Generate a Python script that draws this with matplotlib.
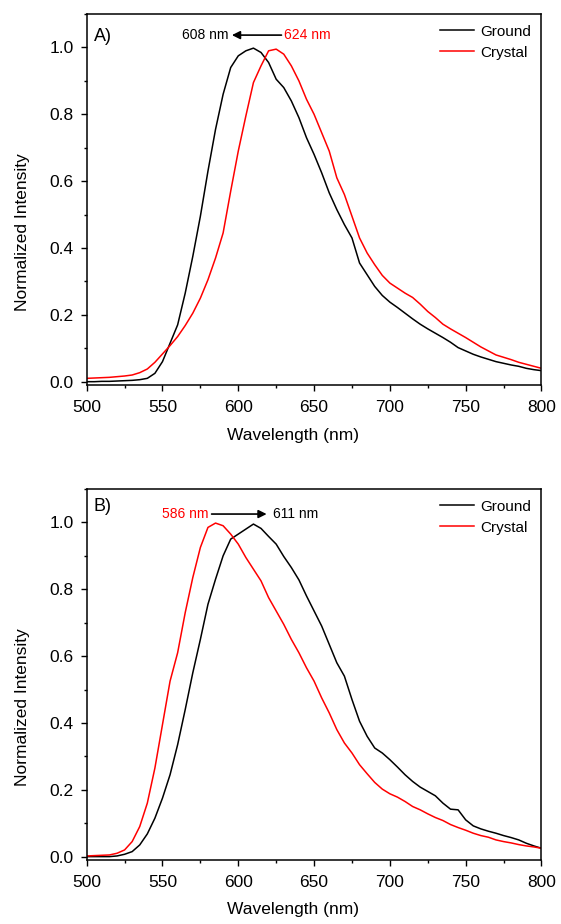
#!/usr/bin/env python3
import numpy as np
import matplotlib
matplotlib.use("Agg")
import matplotlib.pyplot as plt
from matplotlib.ticker import MultipleLocator, FormatStrFormatter

# wavelength grid (nm), 5 nm steps
wavelength = np.arange(500, 801, 5)

# panel A
ground_a = [0.000, 0.000, 0.001, 0.001, 0.002, 0.003, 0.004, 0.006, 0.010, 0.025,
            0.060, 0.115, 0.170, 0.265, 0.375, 0.495, 0.630, 0.755, 0.860, 0.940,
            0.975, 0.990, 0.998, 0.985, 0.955, 0.905, 0.880, 0.840, 0.790, 0.730,
            0.680, 0.625, 0.565, 0.515, 0.470, 0.430, 0.355, 0.320, 0.285, 0.258,
            0.238, 0.222, 0.205, 0.188, 0.172, 0.158, 0.145, 0.132, 0.118, 0.102,
            0.092, 0.082, 0.074, 0.067, 0.060, 0.055, 0.050, 0.046, 0.040, 0.036,
            0.033]
crystal_a = [0.010, 0.011, 0.012, 0.013, 0.015, 0.017, 0.020, 0.027, 0.038, 0.058,
             0.083, 0.108, 0.135, 0.168, 0.205, 0.250, 0.305, 0.370, 0.445, 0.570,
             0.690, 0.795, 0.895, 0.945, 0.990, 0.995, 0.980, 0.945, 0.900, 0.845,
             0.800, 0.745, 0.690, 0.610, 0.560, 0.495, 0.430, 0.385, 0.350, 0.318,
             0.295, 0.280, 0.265, 0.252, 0.232, 0.210, 0.192, 0.172, 0.158, 0.145,
             0.132, 0.118, 0.104, 0.092, 0.080, 0.073, 0.066, 0.058, 0.052, 0.046,
             0.040]

# panel B
ground_b = [0.000, 0.000, 0.000, 0.000, 0.002, 0.007, 0.015, 0.035, 0.068, 0.115,
            0.175, 0.245, 0.335, 0.440, 0.550, 0.650, 0.755, 0.830, 0.900, 0.950,
            0.965, 0.980, 0.995, 0.982, 0.958, 0.935, 0.898, 0.865, 0.828, 0.780,
            0.735, 0.690, 0.635, 0.580, 0.540, 0.470, 0.405, 0.360, 0.325, 0.310,
            0.290, 0.268, 0.245, 0.225, 0.208, 0.195, 0.182, 0.160, 0.142, 0.140,
            0.110, 0.092, 0.083, 0.076, 0.070, 0.063, 0.057, 0.050, 0.040, 0.032,
            0.025]
crystal_b = [0.002, 0.003, 0.004, 0.005, 0.010, 0.020, 0.045, 0.090, 0.160, 0.265,
             0.395, 0.525, 0.610, 0.730, 0.835, 0.925, 0.985, 0.998, 0.990, 0.965,
             0.935, 0.895, 0.860, 0.825, 0.775, 0.735, 0.695, 0.650, 0.610, 0.565,
             0.525, 0.475, 0.430, 0.380, 0.340, 0.310, 0.275, 0.248, 0.222, 0.202,
             0.188, 0.178, 0.165, 0.150, 0.140, 0.128, 0.117, 0.108, 0.096, 0.087,
             0.079, 0.070, 0.063, 0.058, 0.050, 0.045, 0.041, 0.036, 0.032, 0.029,
             0.025]

plt.rcParams['font.family'] = ['Liberation Sans', 'DejaVu Sans']

fig = plt.figure(figsize=(5.61, 9.24), dpi=100)
ax_a = fig.add_axes([0.1545, 0.5833, 0.8107, 0.4015])
ax_b = fig.add_axes([0.1545, 0.0693, 0.8107, 0.4015])


def style_axes(ax, letter, letter_y, xlab_y):
    ax.set_xlim(500, 800)
    ax.set_ylim(-0.01, 1.1)
    ax.xaxis.set_major_locator(MultipleLocator(50))
    ax.xaxis.set_minor_locator(MultipleLocator(25))
    ax.yaxis.set_major_locator(MultipleLocator(0.2))
    ax.yaxis.set_minor_locator(MultipleLocator(0.1))
    ax.yaxis.set_major_formatter(FormatStrFormatter('%.1f'))
    ax.tick_params(which='major', direction='out', length=4, width=1, labelsize=12.5)
    ax.tick_params(axis='x', which='major', pad=6.6)
    ax.tick_params(axis='y', which='major', pad=5.2)
    ax.tick_params(which='minor', direction='out', length=2.5, width=1)
    for s in ax.spines.values():
        s.set_linewidth(1.1)
    ax.set_xlabel("Wavelength (nm)", fontsize=12.5)
    ax.set_ylabel("Normalized Intensity", fontsize=12.5)
    ax.xaxis.set_label_coords(0.453, xlab_y)
    ax.yaxis.set_label_coords(-0.125, 0.412)
    ax.text(0.015, letter_y, letter, transform=ax.transAxes, fontsize=13,
            ha='left', va='top')
    ax.legend(loc='upper right', frameon=False, fontsize=11, handlelength=2.2,
              handletextpad=0.4, labelspacing=0.45, borderaxespad=0.3)


ax_a.plot(wavelength, ground_a, color='black', lw=1.1, label='Ground')
ax_a.plot(wavelength, crystal_a, color='red', lw=1.1, label='Crystal')
style_axes(ax_a, "A)", 0.9615, -0.117)
ax_a.annotate("", xy=(595.8, 1.037), xytext=(628.5, 1.037),
              arrowprops=dict(arrowstyle='-|>', color='black', lw=1.2, mutation_scale=12,
                              shrinkA=0, shrinkB=0))
ax_a.text(593.8, 1.037, "608 nm", color='black', fontsize=10, ha='right', va='center')
ax_a.text(630.2, 1.037, "624 nm", color='red', fontsize=10, ha='left', va='center')

ax_b.plot(wavelength, ground_b, color='black', lw=1.1, label='Ground')
ax_b.plot(wavelength, crystal_b, color='red', lw=1.1, label='Crystal')
style_axes(ax_b, "B)", 0.975, -0.112)
ax_b.annotate("", xy=(618.7, 1.025), xytext=(582.4, 1.025),
              arrowprops=dict(arrowstyle='-|>', color='black', lw=1.2, mutation_scale=12,
                              shrinkA=0, shrinkB=0))
ax_b.text(580.4, 1.025, "586 nm", color='red', fontsize=10, ha='right', va='center')
ax_b.text(622.6, 1.025, "611 nm", color='black', fontsize=10, ha='left', va='center')

fig.savefig("out.png", dpi=100)
